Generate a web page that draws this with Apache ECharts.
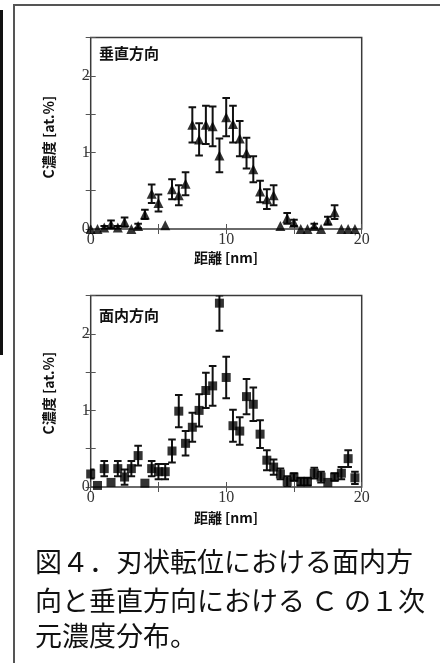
<!DOCTYPE html>
<html><head><meta charset="utf-8">
<script src="https://cdn.jsdelivr.net/npm/echarts@6/dist/echarts.min.js"></script>
<style>html,body{margin:0;padding:0;background:#fff;}#c{width:440px;height:663px;}</style>
</head><body><div id="c"></div>
<script>
// distance [nm]
const dist = [0,0.5,1,1.5,2,2.5,3,3.5,4,4.5,5,5.5,6,6.5,7,7.5,8,8.5,9,9.5,10,10.5,11,11.5,12,12.5,13,13.5,14,14.5,15,15.5,16,16.5,17,17.5,18,18.5,19,19.5];
// 垂直方向 C concentration [at.%] and error
const vert = [0.00,0.00,0.02,0.06,0.02,0.09,0.00,0.04,0.19,0.46,0.34,0.05,0.52,0.44,0.59,1.36,1.17,1.36,1.34,0.96,1.46,1.37,1.18,0.99,0.78,0.49,0.39,0.44,0.04,0.14,0.08,0.00,0.00,0.04,0.00,0.11,0.22,0.00,0.00,0.00];
const vertErr = [0,0,0.02,0.05,0.02,0.06,0,0.03,0.06,0.12,0.11,0,0.13,0.13,0.15,0.23,0.21,0.25,0.26,0.22,0.25,0.24,0.23,0.20,0.17,0.14,0.13,0.13,0,0.07,0.04,0,0,0.03,0,0.05,0.09,0,0,0];
// 面内方向 C concentration [at.%] and error
const inplane = [0.17,0.02,0.24,0.06,0.24,0.13,0.24,0.41,0.05,0.24,0.20,0.20,0.47,0.99,0.57,0.78,1.00,1.26,1.32,2.40,1.43,0.80,0.73,1.18,1.08,0.69,0.35,0.26,0.17,0.07,0.13,0.07,0.07,0.18,0.13,0.06,0.13,0.18,0.37,0.12];
const inplaneErr = [0.06,0,0.10,0,0.10,0.10,0.10,0.13,0,0.10,0.10,0.10,0.15,0.21,0.16,0.19,0.21,0.23,0.26,0.36,0.27,0.21,0.18,0.23,0.22,0.18,0.13,0.10,0.07,0.07,0.05,0.05,0.05,0.07,0.07,0,0.05,0.08,0.11,0.08];
const xTicks = [0,10,20];
const yTicks = [0,1,2];
const titles = ['垂直方向','面内方向'];
const xName = '距離 [nm]';
const yName = 'C濃度 [at.%]';
const caption = ['図４．刃状転位における面内方','向と垂直方向における Ｃ の１次','元濃度分布。'];

const chart = echarts.init(document.getElementById('c'), null, {renderer:'canvas'});
const serif = 'Liberation Serif';
const cjk = '"Noto Sans CJK JP", "Noto Sans", sans-serif';
const grids = [
  {left:90.7, width:271, top:37.5, height:191.5, show:true, borderColor:'#3a3a3a', borderWidth:1.5, backgroundColor:'transparent'},
  {left:90.7, width:271, top:295.5, height:191.5, show:true, borderColor:'#3a3a3a', borderWidth:1.5, backgroundColor:'transparent'}
];
function xAx(g, pos){
  return {type:'value', gridIndex:g, position:pos, min:xTicks[0], max:xTicks[xTicks.length-1], interval:10,
    axisLine:{show:false}, splitLine:{show:false},
    axisTick:{show:true, inside:true, length:5, lineStyle:{color:'#555', width:1}},
    minorTick:{show:true, splitNumber:2, length:5, lineStyle:{color:'#555', width:1}},
    axisLabel:{show:pos==='bottom', margin:3, fontFamily:serif, fontSize:16, color:'#333',
      formatter:v=>xTicks.indexOf(v)>=0?String(v):''}};
}
function yAx(g, pos){
  return {type:'value', gridIndex:g, position:pos, min:0, max:2.5, interval:0.5,
    axisLine:{show:false}, splitLine:{show:false},
    axisTick:{show:true, inside:true, length:5, lineStyle:{color:'#555', width:1}},
    axisLabel:{show:pos==='left', margin:1, fontFamily:serif, fontSize:16, color:'#333',
      formatter:v=>yTicks.indexOf(v)>=0?String(v):''}};
}
function errRender(params, api){
  const x = api.value(0), lo = api.value(1), hi = Math.min(api.value(2), 2.5);
  const p0 = api.coord([x, lo]), p1 = api.coord([x, hi]);
  const hw = 3.8;
  const st = {stroke:'#111', lineWidth:2};
  return {type:'group', children:[
    {type:'line', shape:{x1:p0[0], y1:p0[1], x2:p1[0], y2:p1[1]}, style:st},
    {type:'line', shape:{x1:p0[0]-hw, y1:p0[1], x2:p0[0]+hw, y2:p0[1]}, style:st},
    {type:'line', shape:{x1:p1[0]-hw, y1:p1[1], x2:p1[0]+hw, y2:p1[1]}, style:st}
  ]};
}
function errData(vals, errs){
  const out = [];
  for (let i=0;i<dist.length;i++){ if (errs[i]>0) out.push([dist[i], vals[i]-errs[i], vals[i]+errs[i]]); }
  return out;
}
function pts(vals){ return dist.map((d,i)=>[d, vals[i]]); }

const graphics = [
  {type:'rect', shape:{x:0, y:10, width:3, height:345}, style:{fill:'#111'}},
  {type:'rect', shape:{x:14, y:5, width:440, height:670}, style:{fill:'none', stroke:'#555', lineWidth:2}},
  {type:'text', x:99, y:53, style:{text:titles[0], font:'bold 15px '+cjk, fill:'#111', verticalAlign:'middle'}},
  {type:'text', x:99, y:315, style:{text:titles[1], font:'bold 15px '+cjk, fill:'#111', verticalAlign:'middle'}},
  {type:'text', x:226, y:258, style:{text:xName, font:'bold 14px '+cjk, fill:'#111', align:'center', verticalAlign:'middle'}},
  {type:'text', x:226, y:518, style:{text:xName, font:'bold 14px '+cjk, fill:'#111', align:'center', verticalAlign:'middle'}},
  {type:'text', x:49, y:137, rotation:Math.PI/2, style:{text:yName, font:'bold 14px '+cjk, fill:'#111', align:'center', verticalAlign:'middle'}},
  {type:'text', x:49, y:393, rotation:Math.PI/2, style:{text:yName, font:'bold 14px '+cjk, fill:'#111', align:'center', verticalAlign:'middle'}}
];
const capY = [562, 601, 636];
caption.forEach((t,i)=>graphics.push({type:'text', x:35, y:capY[i], style:{text:t, font:'27px '+cjk, fill:'#111', verticalAlign:'middle'}}));

chart.setOption({
  animation:false,
  grid:grids,
  xAxis:[xAx(0,'bottom'), xAx(0,'top'), xAx(1,'bottom'), xAx(1,'top')],
  yAxis:[yAx(0,'left'), yAx(0,'right'), yAx(1,'left'), yAx(1,'right')],
  series:[
    {type:'custom', xAxisIndex:0, yAxisIndex:0, renderItem:errRender, data:errData(vert, vertErr), clip:true, z:2},
    {type:'scatter', xAxisIndex:0, yAxisIndex:0, symbol:'triangle', symbolSize:[10,10], data:pts(vert), itemStyle:{color:'#000'}, z:3},
    {type:'custom', xAxisIndex:2, yAxisIndex:2, renderItem:errRender, data:errData(inplane, inplaneErr), clip:true, z:2},
    {type:'scatter', xAxisIndex:2, yAxisIndex:2, symbol:'rect', symbolSize:9, data:pts(inplane), itemStyle:{color:'#000'}, z:3}
  ],
  graphic:graphics
});
</script></body></html>
